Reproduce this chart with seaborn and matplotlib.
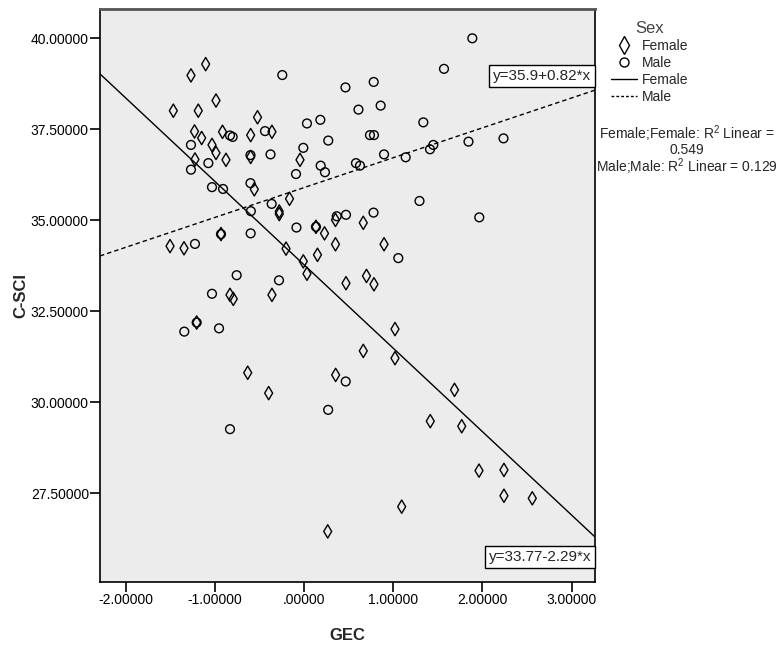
import numpy as np
import pandas as pd
import matplotlib
matplotlib.use("Agg")
import matplotlib.pyplot as plt
from matplotlib.lines import Line2D
from matplotlib.ticker import FuncFormatter, FixedLocator
import seaborn as sns

# ---------------- data ----------------
female_gec = [-1.107, -1.272, -0.991, -1.470, -1.190, -0.525, -1.232, -1.152, -0.918, -0.363,
              -0.602, -1.036, -0.991, -1.227, -0.879, -0.602, -0.048, -0.561, -0.166, -0.281,
              -0.281, -1.507, -1.350, -0.935, 0.131, 0.227, 0.350, -0.205, -0.011, 0.148,
              0.350, 0.030, 0.468, -0.834, -0.797, -0.363, -1.208, -0.635, -0.400, 0.352,
              0.662, 0.895, 0.698, 0.782, 1.018, 0.662, 1.018, 1.686, 1.414, 1.767,
              1.961, 2.241, 2.241, 2.559, 1.093, 0.263]
female_csci = [39.29, 38.98, 38.29, 38.01, 38.01, 37.83, 37.44, 37.26, 37.43, 37.43,
               37.34, 37.07, 36.85, 36.67, 36.66, 36.74, 36.66, 35.85, 35.59, 35.24,
               35.17, 34.29, 34.23, 34.62, 34.82, 34.64, 35.01, 34.22, 33.87, 34.05,
               34.34, 33.53, 33.27, 32.95, 32.84, 32.95, 32.19, 30.81, 30.25, 30.75,
               34.93, 34.34, 33.47, 33.24, 32.01, 31.41, 31.21, 30.34, 29.48, 29.34,
               28.12, 28.14, 27.43, 27.36, 27.13, 26.45]

male_gec = [-0.247, 0.462, 0.608, 0.030, 0.180, 0.269, -0.441, -0.834, -0.804, -1.272,
            -0.379, -0.011, -0.604, -1.077, -1.272, 0.184, 0.232, -0.093, 0.580, 0.625,
            -1.036, -0.912, -0.604, -0.366, -0.600, 0.364, 0.468, 1.886, 1.568, 0.779,
            0.857, 1.336, 0.737, 0.782, 1.843, 2.236, 1.411, 1.448, 0.895, 1.138,
            1.293, 0.777, 1.964, -0.602, -0.088, -0.935, 0.131, -1.227, -0.759, -0.284,
            -1.036, -1.208, -1.347, -0.957, 0.465, 0.268, -0.834, 1.055]
male_csci = [38.99, 38.65, 38.04, 37.66, 37.76, 37.19, 37.45, 37.33, 37.29, 37.07,
             36.81, 36.99, 36.79, 36.57, 36.39, 36.50, 36.32, 36.27, 36.57, 36.50,
             35.91, 35.86, 36.02, 35.45, 35.25, 35.11, 35.15, 40.00, 39.16, 38.80,
             38.15, 37.69, 37.34, 37.34, 37.16, 37.25, 36.95, 37.07, 36.81, 36.73,
             35.53, 35.21, 35.08, 34.64, 34.80, 34.62, 34.82, 34.35, 33.49, 33.35,
             32.98, 32.19, 31.94, 32.03, 30.57, 29.79, 29.26, 33.96]

groups = ["Female", "Male"]
fit_intercepts = [33.77, 35.9]
fit_slopes = [-2.29, 0.82]
fit_labels = ["y=33.77-2.29*x", "y=35.9+0.82*x"]
r2_lines = ["Female;Female: R$^2$ Linear =", "0.549", "Male;Male: R$^2$ Linear = 0.129"]

x_ticks = [-2.0, -1.0, 0.0, 1.0, 2.0, 3.0]
y_ticks = [27.5, 30.0, 32.5, 35.0, 37.5, 40.0]

# ---------------- style ----------------
sns.set_theme(style="ticks")
plt.rcParams["font.family"] = ["Liberation Sans", "DejaVu Sans"]
plt.rcParams["mathtext.fontset"] = "custom"
plt.rcParams["mathtext.rm"] = "Liberation Sans"

fig = plt.figure(figsize=(7.82, 6.46), dpi=100)
W, H = 782, 646
ax = fig.add_axes([100 / W, 1 - 582 / H, 495 / W, 573 / H])
ax.set_facecolor("#ececec")

xlim = (-2.293, 3.263)
ylim = (25.06, 40.805)

df_f = pd.DataFrame({"GEC": female_gec, "C-SCI": female_csci})
df_m = pd.DataFrame({"GEC": male_gec, "C-SCI": male_csci})

sns.scatterplot(data=df_f, x="GEC", y="C-SCI", ax=ax, marker="d", s=46,
                facecolor="none", edgecolor="black", linewidth=1.0, zorder=3)
sns.scatterplot(data=df_m, x="GEC", y="C-SCI", ax=ax, marker="o", s=40,
                facecolor="none", edgecolor="black", linewidth=1.0, zorder=3)

# fit lines from stored coefficients across the axis range
xs = np.array(xlim)
styles = ["-", (0, (3.2, 2.2))]
for b, m, ls in zip(fit_intercepts, fit_slopes, styles):
    line_df = pd.DataFrame({"x": xs, "y": b + m * xs})
    sns.lineplot(data=line_df, x="x", y="y", ax=ax, color="black",
                 linewidth=1.0, linestyle=ls, zorder=2)

ax.set_xlim(*xlim)
ax.set_ylim(*ylim)

# equation labels
box = dict(boxstyle="square,pad=0.25", facecolor="white", edgecolor="black", linewidth=1.0)
ax.text((542 - 100) / 495, 1 - (76 - 9) / 573, fit_labels[1], transform=ax.transAxes,
        ha="center", va="center", fontsize=11, bbox=box, zorder=5)
ax.text((540 - 100) / 495, 1 - (557 - 9) / 573, fit_labels[0], transform=ax.transAxes,
        ha="center", va="center", fontsize=11, bbox=box, zorder=5)

# ticks
def fmt(v, pos=None):
    s = f"{v:.5f}"
    if s.startswith("0."):
        s = s[1:]
    elif s.startswith("-0."):
        s = "-" + s[2:]
    return s

ax.xaxis.set_major_locator(FixedLocator(x_ticks))
ax.yaxis.set_major_locator(FixedLocator(y_ticks))
ax.xaxis.set_major_formatter(FuncFormatter(fmt))
ax.yaxis.set_major_formatter(FuncFormatter(fmt))
ax.tick_params(axis="both", direction="out", length=7, width=1.2, colors="black",
               labelsize=10, pad=1)

for side in ["left", "bottom", "right"]:
    ax.spines[side].set_color("black")
    ax.spines[side].set_linewidth(1.2)
ax.spines["top"].set_color("#555555")
ax.spines["top"].set_linewidth(2.0)

ax.set_xlabel("GEC", fontsize=12, fontweight="bold")
ax.set_ylabel("C-SCI", fontsize=12, fontweight="bold")
ax.xaxis.label.set_va("center")
ax.yaxis.label.set_va("center")
ax.xaxis.set_label_coords(0.5, -(635 - 582) / 573)
ax.yaxis.set_label_coords(-(100 - 21) / 495, 0.5)

# legend
handles = [
    Line2D([], [], marker="d", linestyle="none", markerfacecolor="none",
           markeredgecolor="black", markersize=9, markeredgewidth=1.0),
    Line2D([], [], marker="o", linestyle="none", markerfacecolor="none",
           markeredgecolor="black", markersize=6.5, markeredgewidth=1.0),
    Line2D([], [], color="black", linewidth=1.0, linestyle="-"),
    Line2D([], [], color="black", linewidth=1.0, linestyle=(0, (2, 1.5))),
]
leg = fig.legend(handles, groups + groups, title="Sex", loc="upper left",
                 bbox_to_anchor=(604 / W, 1 - 14 / H), frameon=False, fontsize=10,
                 title_fontsize=12, handlelength=1.9, handletextpad=0.3,
                 labelspacing=0.22, borderpad=0.0, alignment="center")
leg.get_title().set_color("#444444")

fig.text(687 / W, 1 - 134 / H, r2_lines[0], ha="center", va="center", fontsize=10)
fig.text(687 / W, 1 - 150 / H, r2_lines[1], ha="center", va="center", fontsize=10)
fig.text(687 / W, 1 - 167 / H, r2_lines[2], ha="center", va="center", fontsize=10)

fig.savefig("out.png", dpi=100)
